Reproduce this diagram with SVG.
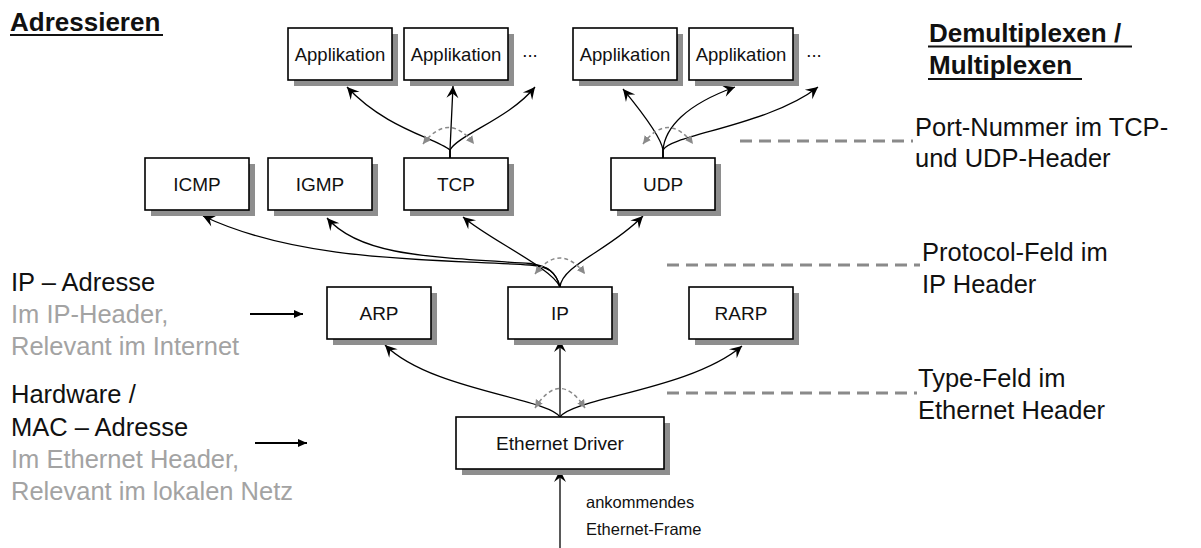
<svg xmlns="http://www.w3.org/2000/svg" width="1201" height="548" viewBox="0 0 1201 548">
<defs>
<style>
.box{fill:#fff;stroke:#000;stroke-width:1.6}
.sh{fill:#8e8e8e}
.bl{font-family:"Liberation Sans",Arial,sans-serif;font-size:19px;text-anchor:middle;fill:#111}
.app{font-size:18.5px}
.big{font-family:"Liberation Sans",Arial,sans-serif;font-size:25.5px;fill:#111}
.grey{fill:#a3a3a3}
.small{font-family:"Liberation Sans",Arial,sans-serif;font-size:16.5px;fill:#111}
.head{font-family:"Liberation Sans",Arial,sans-serif;font-size:26px;font-weight:bold;fill:#111}
.ul{stroke:#111;stroke-width:2}
.con{fill:none;stroke:#000;stroke-width:1.3;marker-end:url(#ah)}
.arc{fill:none;stroke:#8a8a8a;stroke-width:1.5;stroke-dasharray:4 3;marker-start:url(#ga);marker-end:url(#ga)}
.dash{stroke:#8a8a8a;stroke-width:3;stroke-dasharray:12 7}
.side{stroke:#000;stroke-width:2.2;marker-end:url(#fa)}
</style>
<marker id="ah" markerUnits="userSpaceOnUse" markerWidth="14" markerHeight="14" viewBox="0 0 14 14" refX="13" refY="7" orient="auto">
<path d="M1,1 L13,7 L1,13 L5.5,7 z" fill="#000"/>
</marker>
<marker id="ga" markerUnits="userSpaceOnUse" markerWidth="9" markerHeight="9" viewBox="0 0 9 9" refX="8" refY="4.5" orient="auto-start-reverse">
<path d="M0,0.5 L8,4.5 L0,8.5 z" fill="#8a8a8a"/>
</marker>
<marker id="fa" markerUnits="userSpaceOnUse" markerWidth="10" markerHeight="10" viewBox="0 0 10 10" refX="9" refY="5" orient="auto">
<path d="M0,1 L9,5 L0,9 z" fill="#000"/>
</marker>
</defs>
<rect width="1201" height="548" fill="#fff"/>

<g id="headings">
<text class="head" x="10" y="31">Adressieren</text>
<line class="ul" x1="10" y1="35" x2="163" y2="35"/>
<text class="head" x="929" y="42">Demultiplexen /</text>
<line class="ul" x1="928" y1="46.5" x2="1132" y2="46.5"/>
<text class="head" x="929" y="74">Multiplexen</text>
<line class="ul" x1="928" y1="79" x2="1082" y2="79"/>
</g>

<g id="left-labels">
<text class="big" x="11" y="291">IP – Adresse</text>
<text class="big grey" x="11" y="323">Im IP-Header,</text>
<text class="big grey" x="11" y="355">Relevant im Internet</text>
<text class="big" x="11" y="403">Hardware /</text>
<text class="big" x="11" y="436">MAC – Adresse</text>
<text class="big grey" x="11" y="468">Im Ethernet Header,</text>
<text class="big grey" x="11" y="500">Relevant im lokalen Netz</text>
<line class="side" x1="250" y1="314" x2="303" y2="314"/>
<line class="side" x1="255" y1="443" x2="307" y2="443"/>
</g>

<g id="right-labels">
<line class="dash" x1="740" y1="141" x2="913" y2="141"/>
<text class="big" x="915" y="136">Port-Nummer im TCP-</text>
<text class="big" x="915" y="167">und UDP-Header</text>
<line class="dash" x1="667" y1="265" x2="920" y2="265"/>
<text class="big" x="922" y="261">Protocol-Feld im</text>
<text class="big" x="922" y="293">IP Header</text>
<line class="dash" x1="667" y1="393" x2="917" y2="393"/>
<text class="big" x="918" y="387">Type-Feld im</text>
<text class="big" x="918" y="419">Ethernet Header</text>
</g>

<g id="connectors">
<!-- Ethernet Driver -->
<path class="con" d="M560,548 L560,470"/>
<path class="con" d="M560,417 L560,340"/>
<path class="con" d="M560,417 C548,398 430,390 385,345"/>
<path class="con" d="M560,417 C572,398 690,390 742,346"/>
<path class="arc" d="M535,408 Q560,369 585,408"/>
<!-- IP -->
<path class="con" d="M560,287 C556,272 548,266 530,265 C430,259 300,262 203,216"/>
<path class="con" d="M560,287 C556,272 548,266 530,263.5 C430,257 360,256 327,218"/>
<path class="con" d="M560,287 C552,268 490,240 463,217"/>
<path class="con" d="M560,287 C562,265 610,250 643,216"/>
<path class="arc" d="M535,274 Q560,242 585,274"/>
<!-- TCP -->
<path class="con" d="M450,158 L450,150 C435,138 385,128 347,87"/>
<path class="con" d="M450,158 L450,150 L453,86"/>
<path class="con" d="M450,158 L450,150 C458,135 510,118 535,87"/>
<path class="arc" d="M423,144 Q448.5,111 474,144"/>
<!-- UDP -->
<path class="con" d="M663,158 L663,150 C661,135 632,100 623,89"/>
<path class="con" d="M663,158 L663,150 C665,128 685,105 735,87"/>
<path class="con" d="M663,158 L663,150 C670,135 770,125 818,87"/>
<path class="arc" d="M643,144 Q668,111 693,144"/>
</g>

<g id="app1"><rect class="sh" x="294" y="34" width="104" height="52"/><rect class="box" x="288" y="28" width="104" height="52"/><text class="bl app" x="340" y="61">Applikation</text></g>
<g id="app2"><rect class="sh" x="410" y="34" width="104" height="52"/><rect class="box" x="404" y="28" width="104" height="52"/><text class="bl app" x="456" y="61">Applikation</text></g>
<g id="dots1"><text class="bl app" x="530" y="57">...</text></g>
<g id="app3"><rect class="sh" x="579" y="34" width="104" height="52"/><rect class="box" x="573" y="28" width="104" height="52"/><text class="bl app" x="625" y="61">Applikation</text></g>
<g id="app4"><rect class="sh" x="695" y="34" width="104" height="52"/><rect class="box" x="689" y="28" width="104" height="52"/><text class="bl app" x="741" y="61">Applikation</text></g>
<g id="dots2"><text class="bl app" x="814" y="57">...</text></g>

<g id="icmp"><rect class="sh" x="151" y="164" width="104" height="52"/><rect class="box" x="145" y="158" width="104" height="52"/><text class="bl" x="197" y="191">ICMP</text></g>
<g id="igmp"><rect class="sh" x="274" y="164" width="104" height="52"/><rect class="box" x="268" y="158" width="104" height="52"/><text class="bl" x="320" y="191">IGMP</text></g>
<g id="tcp"><rect class="sh" x="410" y="164" width="104" height="52"/><rect class="box" x="404" y="158" width="104" height="52"/><text class="bl" x="456" y="191">TCP</text></g>
<g id="udp"><rect class="sh" x="617" y="164" width="104" height="52"/><rect class="box" x="611" y="158" width="104" height="52"/><text class="bl" x="663" y="191">UDP</text></g>

<g id="arp"><rect class="sh" x="333" y="293" width="104" height="52"/><rect class="box" x="327" y="287" width="104" height="52"/><text class="bl" x="379" y="320">ARP</text></g>
<g id="ip"><rect class="sh" x="514" y="293" width="104" height="52"/><rect class="box" x="508" y="287" width="104" height="52"/><text class="bl" x="560" y="320">IP</text></g>
<g id="rarp"><rect class="sh" x="695" y="293" width="104" height="52"/><rect class="box" x="689" y="287" width="104" height="52"/><text class="bl" x="741" y="320">RARP</text></g>

<g id="ethernet-driver"><rect class="sh" x="462" y="423" width="208" height="52"/><rect class="box" x="456" y="417" width="208" height="52"/><text class="bl" x="560" y="450">Ethernet Driver</text></g>

<g id="frame-label">
<text class="small" x="586" y="508">ankommendes</text>
<text class="small" x="586" y="535">Ethernet-Frame</text>
</g>
</svg>
